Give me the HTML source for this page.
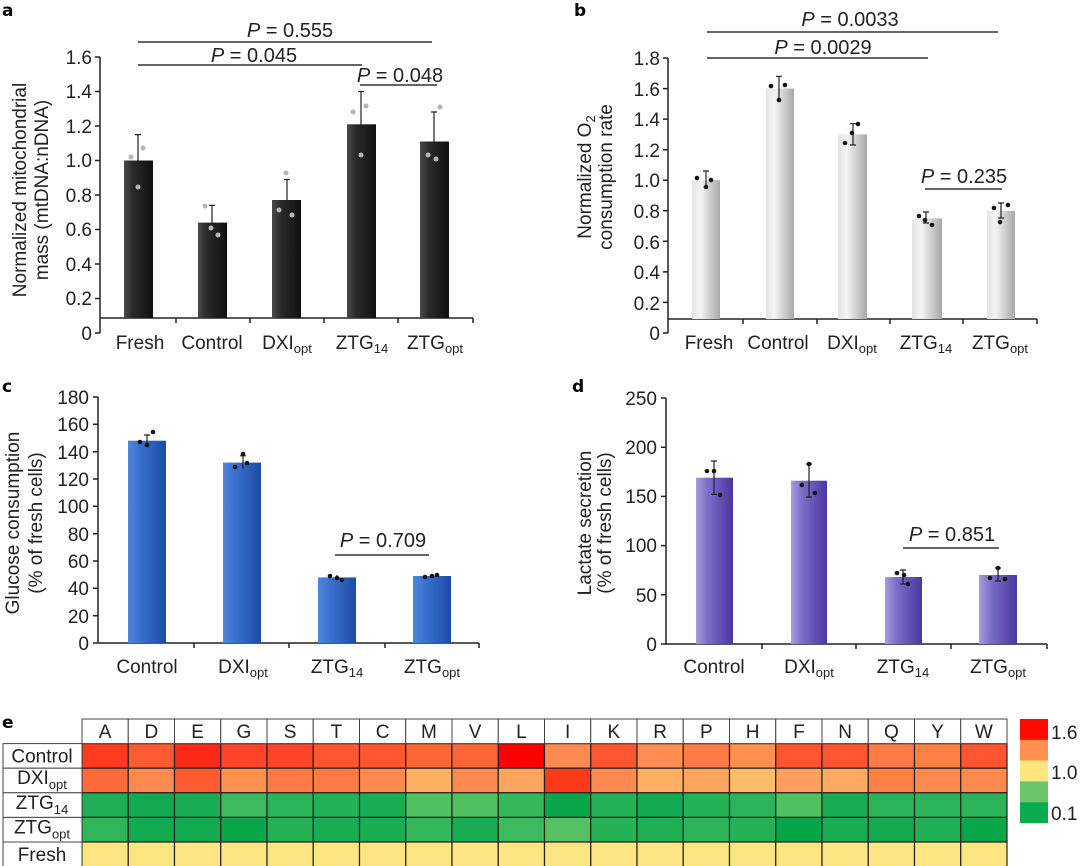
<!DOCTYPE html>
<html><head><meta charset="utf-8"><style>
html,body{margin:0;padding:0;background:#fff;}
svg{display:block;font-family:"Liberation Sans",Arial,sans-serif;}
.t{font-size:19px;fill:#222;}
.p{font-size:20px;fill:#222;}
.ax{stroke:#222;stroke-width:1.5;fill:none;}
.ln{stroke:#333;stroke-width:1.5;}
.eb{stroke:#222;stroke-width:1.2;}
.lab{font-size:17px;font-weight:bold;font-family:"DejaVu Sans",sans-serif;}
</style></head><body>
<svg width="1080" height="866" viewBox="0 0 1080 866" xmlns="http://www.w3.org/2000/svg">
<defs>
<linearGradient id="gk" x1="0" x2="1"><stop offset="0" stop-color="#4a4a4a"/><stop offset="0.3" stop-color="#2a2a2a"/><stop offset="1" stop-color="#101010"/></linearGradient>
<linearGradient id="gg" x1="0" x2="1"><stop offset="0" stop-color="#e4e4e4"/><stop offset="0.3" stop-color="#f4f4f4"/><stop offset="1" stop-color="#a8a8a8"/></linearGradient>
<linearGradient id="gb" x1="0" x2="1"><stop offset="0" stop-color="#4f86dc"/><stop offset="0.3" stop-color="#3a72cf"/><stop offset="1" stop-color="#1d4aa6"/></linearGradient>
<linearGradient id="gp" x1="0" x2="1"><stop offset="0" stop-color="#a79ee0"/><stop offset="0.3" stop-color="#7c6fca"/><stop offset="1" stop-color="#4a36a0"/></linearGradient>
</defs>

<!-- ===== Panel a ===== -->
<text class="lab" x="2" y="16">a</text>
<g class="t" text-anchor="end">
<text x="92" y="340">0</text><text x="92" y="305">0.2</text><text x="92" y="271">0.4</text><text x="92" y="236">0.6</text><text x="92" y="202">0.8</text><text x="92" y="167">1.0</text><text x="92" y="133">1.2</text><text x="92" y="98">1.4</text><text x="92" y="64">1.6</text>
</g>
<path class="ax" d="M100,57V333M95,57H100M95,91.5H100M95,126H100M95,160.5H100M95,195H100M95,229.5H100M95,264H100M95,298.5H100M95,333H100"/>
<path class="ax" d="M100,318H473M176,318V323M250,318V323M324,318V323M398,318V323M473,318V323"/>
<rect x="124" y="160.5" width="29" height="157.5" fill="url(#gk)"/>
<rect x="198" y="222.6" width="29" height="95.4" fill="url(#gk)"/>
<rect x="272" y="200" width="29" height="118" fill="url(#gk)"/>
<rect x="347" y="124.3" width="29" height="193.7" fill="url(#gk)"/>
<rect x="420" y="141.5" width="29" height="176.5" fill="url(#gk)"/>
<g class="eb">
<path d="M138,134.6V180M135,134.6H141M212,205.4V240M209,205.4H215M287,179.5V220M284,179.5H290M361,91.5V155M358,91.5H364M434,112V170M431,112H437"/>
</g>
<g fill="#b5b5b5">
<circle cx="131" cy="157" r="2.5"/><circle cx="143" cy="148" r="2.5"/><circle cx="138" cy="187" r="2.5"/>
<circle cx="205" cy="206" r="2.5"/><circle cx="211" cy="228" r="2.5"/><circle cx="218" cy="235" r="2.5"/>
<circle cx="286" cy="173" r="2.5"/><circle cx="279" cy="210" r="2.5"/><circle cx="292" cy="215" r="2.5"/>
<circle cx="353" cy="112" r="2.5"/><circle cx="366" cy="106" r="2.5"/><circle cx="361" cy="155" r="2.5"/>
<circle cx="440" cy="107" r="2.5"/><circle cx="428" cy="155" r="2.5"/><circle cx="436" cy="159" r="2.5"/>
</g>
<g class="ln"><path d="M138,42H432M138,65H362M360,85H437"/></g>
<g class="p" text-anchor="middle">
<text x="290" y="37"><tspan font-style="italic">P</tspan> = 0.555</text>
<text x="254" y="62"><tspan font-style="italic">P</tspan> = 0.045</text>
<text x="400" y="82"><tspan font-style="italic">P</tspan> = 0.048</text>
</g>
<g class="t" text-anchor="middle">
<text x="140" y="349">Fresh</text><text x="212" y="349">Control</text>
<text x="287" y="349">DXI<tspan font-size="13" dy="4">opt</tspan></text>
<text x="362" y="349">ZTG<tspan font-size="13" dy="4">14</tspan></text>
<text x="435" y="349">ZTG<tspan font-size="13" dy="4">opt</tspan></text>
</g>
<g class="t" text-anchor="middle">
<text transform="translate(26,190) rotate(-90)">Normalized mitochondrial</text>
<text transform="translate(48,190) rotate(-90)">mass (mtDNA:nDNA)</text>
</g>

<!-- ===== Panel b ===== -->
<text class="lab" x="574" y="16">b</text>
<g class="t" text-anchor="end">
<text x="660" y="340">0</text><text x="660" y="310">0.2</text><text x="660" y="279">0.4</text><text x="660" y="249">0.6</text><text x="660" y="218">0.8</text><text x="660" y="187">1.0</text><text x="660" y="157">1.2</text><text x="660" y="126">1.4</text><text x="660" y="96">1.6</text><text x="660" y="65">1.8</text>
</g>
<path class="ax" d="M668,58V333M663,58H668M663,88.6H668M663,119.1H668M663,149.7H668M663,180.2H668M663,210.8H668M663,241.3H668M663,271.9H668M663,302.4H668M663,333H668"/>
<path class="ax" d="M668,319H1037M743,319V324M817,319V324M890,319V324M963,319V324M1037,319V324"/>
<rect x="692" y="180.2" width="28" height="138.8" fill="url(#gg)"/>
<rect x="766" y="88.5" width="28" height="230.5" fill="url(#gg)"/>
<rect x="838" y="134.4" width="29" height="184.6" fill="url(#gg)"/>
<rect x="912" y="218.4" width="30" height="100.6" fill="url(#gg)"/>
<rect x="987" y="210.8" width="28" height="108.2" fill="url(#gg)"/>
<g class="eb">
<path d="M706,171V188M703,171H709M779,76.3V100.7M776,76.3H782M853,123.7V145M850,123.7H856M850,145H856M926,212V223M923,212H929M923,223H929M1001,203V218M998,203H1004M998,218H1004"/>
</g>
<g fill="#111">
<circle cx="697" cy="178" r="2.3"/><circle cx="711" cy="180" r="2.3"/><circle cx="706" cy="187" r="2.3"/>
<circle cx="771" cy="86" r="2.3"/><circle cx="785" cy="85" r="2.3"/><circle cx="779" cy="100" r="2.3"/>
<circle cx="845" cy="143" r="2.3"/><circle cx="858" cy="124" r="2.3"/><circle cx="852" cy="133" r="2.3"/>
<circle cx="919" cy="216" r="2.3"/><circle cx="932" cy="225" r="2.3"/><circle cx="925" cy="220" r="2.3"/>
<circle cx="994" cy="208" r="2.3"/><circle cx="1008" cy="205" r="2.3"/><circle cx="1000" cy="222" r="2.3"/>
</g>
<g class="ln"><path d="M707,32H998M707,58H928M925,189H1002"/></g>
<g class="p" text-anchor="middle">
<text x="850" y="26"><tspan font-style="italic">P</tspan> = 0.0033</text>
<text x="823" y="54"><tspan font-style="italic">P</tspan> = 0.0029</text>
<text x="964" y="183"><tspan font-style="italic">P</tspan> = 0.235</text>
</g>
<g class="t" text-anchor="middle">
<text x="709" y="349">Fresh</text><text x="778" y="349">Control</text>
<text x="852" y="349">DXI<tspan font-size="13" dy="4">opt</tspan></text>
<text x="926" y="349">ZTG<tspan font-size="13" dy="4">14</tspan></text>
<text x="1000" y="349">ZTG<tspan font-size="13" dy="4">opt</tspan></text>
</g>
<g class="t" text-anchor="middle">
<text transform="translate(591,177) rotate(-90)">Normalized O<tspan font-size="13" dy="4">2</tspan></text>
<text transform="translate(612,177) rotate(-90)">consumption rate</text>
</g>

<!-- ===== Panel c ===== -->
<text class="lab" x="2" y="392">c</text>
<g class="t" text-anchor="end">
<text x="89" y="650">0</text><text x="89" y="623">20</text><text x="89" y="595">40</text><text x="89" y="568">60</text><text x="89" y="541">80</text><text x="89" y="513">100</text><text x="89" y="486">120</text><text x="89" y="459">140</text><text x="89" y="431">160</text><text x="89" y="404">180</text>
</g>
<path class="ax" d="M98,397V643M93,397H98M93,424.3H98M93,451.7H98M93,479H98M93,506.3H98M93,533.7H98M93,561H98M93,588.3H98M93,615.7H98M93,643H98"/>
<path class="ax" d="M98,643H479M194,643V648M289,643V648M385,643V648M479,643V648"/>
<rect x="128" y="440.7" width="38" height="202.3" fill="url(#gb)"/>
<rect x="223" y="462.6" width="38" height="180.4" fill="url(#gb)"/>
<rect x="318" y="577.4" width="38" height="65.6" fill="url(#gb)"/>
<rect x="413" y="576" width="38" height="67" fill="url(#gb)"/>
<g class="eb"><path d="M147,435V446M144,435H150M243,455.8V469M240,455.8H246M337,575V579M432,575V578"/></g>
<g fill="#111">
<circle cx="140" cy="442" r="2.3"/><circle cx="147" cy="445" r="2.3"/><circle cx="153" cy="432" r="2.3"/>
<circle cx="235" cy="467" r="2.3"/><circle cx="243" cy="454" r="2.3"/><circle cx="247" cy="463" r="2.3"/>
<circle cx="330" cy="576" r="2.3"/><circle cx="337" cy="578" r="2.3"/><circle cx="342" cy="580" r="2.3"/>
<circle cx="425" cy="577" r="2.3"/><circle cx="432" cy="576" r="2.3"/><circle cx="437" cy="575" r="2.3"/>
</g>
<g class="ln"><path d="M335,555H429"/></g>
<text class="p" x="383" y="547" text-anchor="middle"><tspan font-style="italic">P</tspan> = 0.709</text>
<g class="t" text-anchor="middle">
<text x="147" y="673">Control</text>
<text x="243" y="673">DXI<tspan font-size="13" dy="4">opt</tspan></text>
<text x="337" y="673">ZTG<tspan font-size="13" dy="4">14</tspan></text>
<text x="432" y="673">ZTG<tspan font-size="13" dy="4">opt</tspan></text>
</g>
<g class="t" text-anchor="middle">
<text transform="translate(19,523) rotate(-90)">Glucose consumption</text>
<text transform="translate(42,523) rotate(-90)">(% of fresh cells)</text>
</g>

<!-- ===== Panel d ===== -->
<text class="lab" x="572" y="392">d</text>
<g class="t" text-anchor="end">
<text x="657" y="651">0</text><text x="657" y="602">50</text><text x="657" y="552">100</text><text x="657" y="503">150</text><text x="657" y="454">200</text><text x="657" y="405">250</text>
</g>
<path class="ax" d="M666,398V644M661,398H666M661,447.2H666M661,496.4H666M661,545.6H666M661,594.8H666M661,644H666"/>
<path class="ax" d="M666,644H1047M762,644V649M856,644V649M951,644V649M1047,644V649"/>
<rect x="696" y="477.7" width="37" height="166.3" fill="url(#gp)"/>
<rect x="791" y="480.7" width="36" height="163.3" fill="url(#gp)"/>
<rect x="885" y="577" width="37" height="67" fill="url(#gp)"/>
<rect x="979" y="575" width="38" height="69" fill="url(#gp)"/>
<g class="eb"><path d="M714,461V494.4M711,461H717M711,494.4H717M809,464V497M806,464H812M806,497H812M903,570V584M900,570H906M900,584H906M998,568V581M995,568H1001M995,581H1001"/></g>
<g fill="#111">
<circle cx="707" cy="471" r="2.3"/><circle cx="714" cy="471" r="2.3"/><circle cx="720" cy="495" r="2.3"/>
<circle cx="802" cy="485" r="2.3"/><circle cx="809" cy="464" r="2.3"/><circle cx="815" cy="493" r="2.3"/>
<circle cx="897" cy="573" r="2.3"/><circle cx="904" cy="575" r="2.3"/><circle cx="908" cy="584" r="2.3"/>
<circle cx="990" cy="578" r="2.3"/><circle cx="998" cy="568" r="2.3"/><circle cx="1005" cy="579" r="2.3"/>
</g>
<g class="ln"><path d="M903,548H999"/></g>
<text class="p" x="952" y="541" text-anchor="middle"><tspan font-style="italic">P</tspan> = 0.851</text>
<g class="t" text-anchor="middle">
<text x="714" y="673">Control</text>
<text x="809" y="673">DXI<tspan font-size="13" dy="4">opt</tspan></text>
<text x="903" y="673">ZTG<tspan font-size="13" dy="4">14</tspan></text>
<text x="998" y="673">ZTG<tspan font-size="13" dy="4">opt</tspan></text>
</g>
<g class="t" text-anchor="middle">
<text transform="translate(591,523) rotate(-90)">Lactate secretion</text>
<text transform="translate(611,523) rotate(-90)">(% of fresh cells)</text>
</g>

<!-- ===== Panel e ===== -->
<text class="lab" x="2" y="728">e</text>
</svg>
<script>
(function(){
var svg=document.querySelector('svg');var NS='http://www.w3.org/2000/svg';
var cols=['A','D','E','G','S','T','C','M','V','L','I','K','R','P','H','F','N','Q','Y','W'];
var rows=[
['#ff3a1f','#ff5a30','#ff2a15','#ff4528','#ff4528','#ff5530','#ff5530','#ff6535','#ff6535','#ff0000','#ff8a50','#ff5530','#ff8c50','#ff7a45','#ff9050','#ff5530','#ff5530','#ff7a45','#ff8045','#ff5530'],
['#ff6a3a','#ff8a50','#ff5a30','#ff9050','#ff7a45','#ff7a45','#ff8a50','#ffb065','#ff8a50','#ffa560','#ff3a1a','#ff8a50','#ffb065','#ffa560','#ffbd6a','#ffa060','#ffaa62','#ff8045','#ff8a50','#ff8a50'],
['#1fb055','#12aa50','#18ad52','#3cbb5e','#2cb558','#25b255','#18ad52','#50c060','#50c060','#35b85a','#0aa64a','#25b255','#12aa50','#25b255','#2cb558','#50c060','#18ad52','#2cb558','#2cb558','#2cb558'],
['#30b558','#12aa50','#12aa50','#0aa64a','#25b255','#18ad52','#18ad52','#35b85a','#18ad52','#3cbb5e','#55c062','#25b255','#1fb055','#2cb558','#25b255','#05a548','#18ad52','#12aa50','#1fb055','#0aa64a']
];
var x0=82,cw=46.25,y0=719,rh=24.6;
function el(t,a,txt){var e=document.createElementNS(NS,t);for(var k in a)e.setAttribute(k,a[k]);if(txt!=null)e.textContent=txt;svg.appendChild(e);return e;}
for(var r=0;r<5;r++){for(var c=0;c<20;c++){var f=r<4?rows[r][c]:'#fde583';
el('rect',{x:x0+c*cw,y:y0+(r+1)*rh,width:cw,height:rh,fill:f,stroke:'#222','stroke-width':1.2});}}
for(var c=0;c<20;c++){el('rect',{x:x0+c*cw,y:y0,width:cw,height:rh,fill:'#fff',stroke:'#444','stroke-width':1});
el('text',{x:x0+c*cw+cw/2,y:y0+19,'text-anchor':'middle','class':'t'},cols[c]);}
var labs=[['Control',''],['DXI','opt'],['ZTG','14'],['ZTG','opt'],['Fresh','']];
for(var r=0;r<5;r++){var yy=y0+(r+1)*rh;
el('rect',{x:3,y:yy,width:79,height:rh,fill:'#fff',stroke:'#444','stroke-width':1});
var t=el('text',{x:42,y:yy+(labs[r][1]?16:19),'text-anchor':'middle','class':'t'},labs[r][0]);
if(labs[r][1]){var s=document.createElementNS(NS,'tspan');s.setAttribute('font-size','13');s.setAttribute('dy','5');s.textContent=labs[r][1];t.appendChild(s);}}
var lc=['#ff0a00','#ff9050','#ffe680','#6cc56a','#0aac50'];
for(var i=0;i<5;i++)el('rect',{x:1020,y:719+i*20.8,width:28,height:21,fill:lc[i]});
el('text',{x:1051,y:739,'class':'t'},'1.6');el('text',{x:1051,y:779,'class':'t'},'1.0');el('text',{x:1051,y:820,'class':'t'},'0.1');
})();
</script>
</body></html>
